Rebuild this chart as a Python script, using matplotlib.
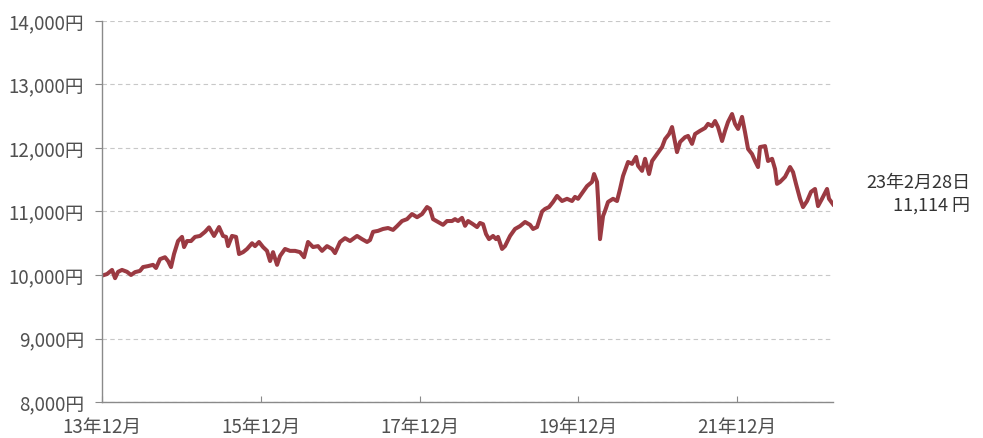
import matplotlib
matplotlib.use("Agg")
import matplotlib.pyplot as plt
from matplotlib.ticker import FuncFormatter

plt.rcParams['font.family'] = ['Noto Sans CJK JP', 'DejaVu Sans']

# months elapsed since 13年12月
months = [
    0.0, 0.76, 1.51, 1.97, 2.42, 3.02, 3.78, 4.38, 4.99, 5.74, 6.20, 6.95, 7.71, 8.16,
    8.77, 9.52, 9.98, 10.43, 10.88, 11.49, 12.09, 12.40, 12.85, 13.45, 14.06, 14.81,
    15.57, 16.18, 16.93, 17.69, 18.29, 18.75, 19.05, 19.65, 20.26, 20.71, 21.32, 21.92,
    22.68, 23.13, 23.73, 24.34, 24.94, 25.40, 25.85, 26.46,
    26.91, 27.66, 28.42, 29.18, 29.93, 30.54, 31.14, 31.90, 32.65, 33.26, 34.01, 34.77,
    35.22, 35.98, 36.73, 37.49, 38.55, 39.30, 40.06, 40.51, 40.97, 41.72, 42.48, 43.24,
    43.99, 44.60, 45.35, 46.11, 46.86, 47.62, 48.38, 49.13, 49.58, 50.04, 50.79, 51.55,
    52.15, 52.91,
    53.36, 53.82, 54.42, 54.88, 55.33, 56.08, 56.69, 57.14, 57.60, 58.05, 58.50, 59.11,
    59.56, 59.86, 60.47, 60.92, 61.68, 62.43, 63.19, 63.95, 64.70, 65.16, 65.76, 66.52,
    66.97, 67.57, 68.18, 68.78, 69.54, 70.29, 71.05, 71.50, 71.96, 72.71, 73.32, 74.07,
    74.38, 74.83, 74.98, 75.28, 75.74, 76.04, 76.49, 77.25, 77.85,
    78.31, 78.76, 79.52, 80.12, 80.73, 81.03, 81.63, 82.09, 82.69, 83.15, 83.90, 84.66,
    85.11, 85.72, 86.17, 86.62, 86.92, 87.38, 88.13, 88.59, 89.19, 89.65, 90.40, 91.16,
    91.61, 92.21, 92.67, 93.12, 93.73, 94.18, 94.63, 95.24, 95.69, 96.15, 96.75, 97.20,
    97.66, 98.26, 98.72, 99.17, 99.47, 100.23, 100.68, 101.29, 101.74, 102.04, 102.49,
    103.25, 104.01, 104.46, 104.91, 105.52, 105.97, 106.58, 107.18, 107.78, 108.24,
    108.84, 109.60, 109.90, 110.50,
]

# 基準価額 (円)
nav = [
    9990, 10015, 10080, 9950, 10050, 10080, 10050, 10000, 10045, 10065, 10125, 10140, 10160, 10110,
    10250, 10280, 10220, 10125, 10330, 10535, 10600, 10440, 10535, 10535, 10600, 10615,
    10680, 10750, 10615, 10755, 10615, 10600, 10455, 10615, 10600, 10330, 10360, 10410,
    10500, 10455, 10520, 10440, 10380, 10220, 10360, 10160,
    10300, 10410, 10380, 10380, 10360, 10280, 10520, 10440, 10455, 10380, 10455, 10410,
    10345, 10520, 10580, 10535, 10615, 10565, 10520, 10550, 10680, 10695, 10725, 10740,
    10710, 10770, 10850, 10880, 10960, 10910, 10960, 11070, 11040, 10880, 10835, 10790,
    10850, 10850,
    10880, 10850, 10900, 10775, 10850, 10800, 10755, 10820, 10800, 10645, 10565, 10615,
    10565, 10600, 10410, 10455, 10615, 10725, 10770, 10835, 10790, 10725, 10755, 11000,
    11040, 11070, 11150, 11245, 11165, 11200, 11165, 11230, 11200, 11310, 11400, 11465,
    11590, 11465, 11200, 10565, 10930, 11010, 11150, 11200, 11165,
    11355, 11560, 11780, 11750, 11860, 11720, 11640, 11830, 11590, 11795, 11905, 12015,
    12140, 12220, 12330, 12095, 11935, 12095, 12170, 12190, 12065, 12220, 12270, 12315,
    12380, 12345, 12425, 12330, 12110, 12270, 12410, 12535, 12380, 12300, 12490, 12250,
    11985, 11905, 11795, 11700, 12015, 12030, 11795, 11830, 11670, 11435, 11465,
    11545, 11700, 11620, 11435, 11200, 11070, 11165, 11310, 11355, 11085,
    11200, 11355, 11200, 11114,
]

x_ticks = [0, 24, 48, 72, 96]
x_labels = ['13年12月', '15年12月', '17年12月', '19年12月', '21年12月']
y_ticks = [8000, 9000, 10000, 11000, 12000, 13000, 14000]

last_date = '23年2月28日'
last_value = '11,114 円'

fig = plt.figure(figsize=(9.83, 4.39), dpi=100)
ax = fig.add_axes([0.1038, 0.082, 0.7436, 0.8679])

ax.plot(months, nav, color='#9b3a42', linewidth=2.9, solid_joinstyle='round')

ax.set_xlim(0, 110.5)
ax.set_ylim(8000, 14000)
ax.set_xticks(x_ticks)
ax.set_xticklabels(x_labels)
ax.set_yticks(y_ticks)
ax.yaxis.set_major_formatter(FuncFormatter(lambda v, p: f'{int(v):,}円'))

ax.grid(axis='y', color='#c8c8c8', linestyle=(0, (4, 3)), linewidth=0.8)
ax.set_axisbelow(True)
for s in ['top', 'right']:
    ax.spines[s].set_visible(False)
for s in ['left', 'bottom']:
    ax.spines[s].set_color('#8a8a8a')
    ax.spines[s].set_linewidth(1.0)

ax.tick_params(axis='y', colors='#8a8a8a', labelcolor='#505050', labelsize=13.5,
               length=5, direction='out', pad=8)
ax.tick_params(axis='x', colors='#8a8a8a', labelcolor='#505050', labelsize=13.5,
               length=4, direction='in', pad=10)

fig.text(0.987, 0.583, last_date, ha='right', va='center', fontsize=13, color='#333333')
fig.text(0.987, 0.531, last_value, ha='right', va='center', fontsize=13, color='#333333')

fig.savefig('out.png', dpi=100)
